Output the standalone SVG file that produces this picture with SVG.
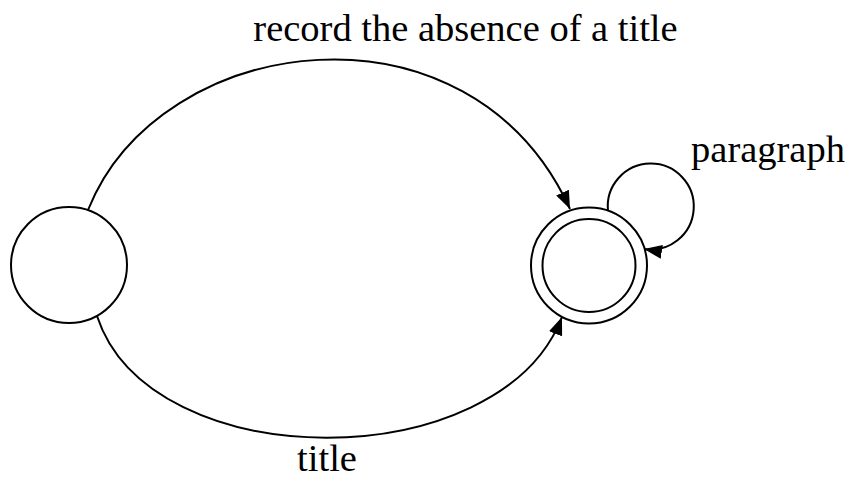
<svg xmlns="http://www.w3.org/2000/svg" width="849" height="478" viewBox="0 0 849 478">
<style>
.n{fill:#fff;stroke:#000;stroke-width:2}
.e{fill:none;stroke:#000;stroke-width:2}
.t{font-family:'Liberation Serif','Times New Roman',serif;font-size:38.5px;fill:#000}
</style>
<defs>
<marker id="a" markerWidth="18" markerHeight="14" refX="18" refY="7" orient="auto" markerUnits="userSpaceOnUse">
<path d="M0,0 L18,7 L0,14 Z" fill="#000"/>
</marker>
</defs>
<g id="connectors">
<path class="e" d="M88,210 C160,30 470,-10 570,209" marker-end="url(#a)"/>
<path class="e" d="M97,316 C150,478 500,478 562,317" marker-end="url(#a)"/>
<path class="e" d="M608,211 A43,43 0 1 1 644,249" marker-end="url(#a)"/>
</g>
<g id="start"><circle class="n" cx="69" cy="265" r="58"/></g>
<g id="final"><circle class="n" cx="589" cy="265.5" r="58"/><circle class="n" cx="589" cy="265.5" r="46.5"/></g>
<text class="t" x="465.5" y="41" text-anchor="middle">record the absence of a title</text>
<text class="t" x="768" y="162" text-anchor="middle">paragraph</text>
<text class="t" x="327" y="471" text-anchor="middle">title</text>
</svg>
